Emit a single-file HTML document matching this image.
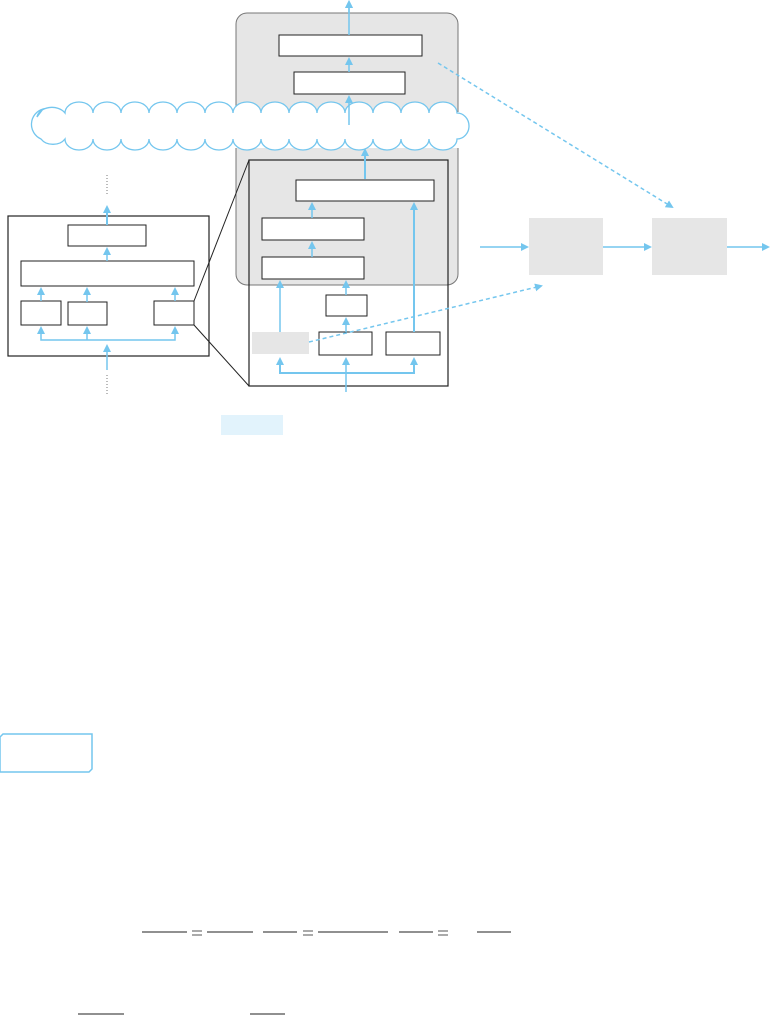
<!DOCTYPE html>
<html><head><style>html,body{margin:0;padding:0;background:#fff;width:770px;height:1015px;overflow:hidden}</style></head>
<body>
<svg width="770" height="1015" viewBox="0 0 770 1015" xmlns="http://www.w3.org/2000/svg" font-family="Liberation Sans, sans-serif">
<defs>
<marker id="a" markerWidth="8" markerHeight="8" refX="6" refY="4" orient="auto" markerUnits="userSpaceOnUse"><path d="M0,0 L8,4 L0,8z" fill="#74c6ee"/></marker>
</defs>
<rect x="236" y="13" width="222" height="272" rx="11" fill="#e6e6e6" stroke="#777" stroke-width="1"/>
<rect x="279" y="35" width="143" height="21" fill="#fff" stroke="#222"/>
<rect x="294" y="72" width="111" height="22" fill="#fff" stroke="#222"/>
<!-- cloud -->
<g fill="#fff" stroke="#74c6ee" stroke-width="1.3">
<rect x="30" y="112" width="440" height="36" stroke="none"/>
<path d="M37,117 a15,11 0 0 1 28,-4 a14,11 0 0 1 28,0 a14,11 0 0 1 28,0 a14,11 0 0 1 28,0 a14,11 0 0 1 28,0 a14,11 0 0 1 28,0 a14,11 0 0 1 28,0 a14,11 0 0 1 28,0 a14,11 0 0 1 28,0 a14,11 0 0 1 28,0 a14,11 0 0 1 28,0 a14,11 0 0 1 28,0 a14,11 0 0 1 28,0 a14,11 0 0 1 28,0 a14,11 0 0 1 28,0 a12,13 0 0 1 0,26 a14,11 0 0 1 -28,0 a14,11 0 0 1 -28,0 a14,11 0 0 1 -28,0 a14,11 0 0 1 -28,0 a14,11 0 0 1 -28,0 a14,11 0 0 1 -28,0 a14,11 0 0 1 -28,0 a14,11 0 0 1 -28,0 a14,11 0 0 1 -28,0 a14,11 0 0 1 -28,0 a14,11 0 0 1 -28,0 a14,11 0 0 1 -28,0 a14,11 0 0 1 -28,0 a14,11 0 0 1 -28,0 a14,11 0 0 1 -24,0 a16,16 0 0 1 2,-30z"/>
</g>
<rect x="249" y="160" width="199" height="226" fill="none" stroke="#222" stroke-width="1.2"/>
<rect x="296" y="180" width="138" height="21" fill="#fff" stroke="#222"/>
<rect x="262" y="218" width="102" height="22" fill="#fff" stroke="#222"/>
<rect x="262" y="257" width="102" height="22" fill="#fff" stroke="#222"/>
<rect x="326" y="295" width="41" height="21" fill="#fff" stroke="#222"/>
<rect x="252" y="332" width="57" height="22" fill="#e6e6e6"/>
<rect x="319" y="332" width="53" height="23" fill="#fff" stroke="#222"/>
<rect x="386" y="332" width="54" height="23" fill="#fff" stroke="#222"/>
<rect x="8" y="216" width="201" height="140" fill="none" stroke="#222" stroke-width="1.2"/>
<rect x="68" y="225" width="78" height="21" fill="#fff" stroke="#222"/>
<rect x="21" y="261" width="173" height="25" fill="#fff" stroke="#222"/>
<rect x="21" y="301" width="40" height="24" fill="#fff" stroke="#222"/>
<rect x="68" y="302" width="39" height="23" fill="#fff" stroke="#222"/>
<rect x="154" y="301" width="40" height="24" fill="#fff" stroke="#222"/>
<line x1="194" y1="301" x2="249" y2="160" stroke="#222"/>
<line x1="194" y1="325" x2="249" y2="386" stroke="#222"/>
<rect x="529" y="218" width="74" height="57" fill="#e6e6e6"/>
<rect x="652" y="218" width="75" height="57" fill="#e6e6e6"/>
<g stroke="#74c6ee" stroke-width="1.5" fill="none" marker-end="url(#a)">
<line x1="349" y1="13" x2="349" y2="2"/>
<line x1="349" y1="35" x2="349" y2="2"/>
<line x1="349" y1="72" x2="349" y2="59"/>
<line x1="349" y1="125" x2="349" y2="97"/>
<line x1="365" y1="179" x2="365" y2="150" stroke-width="2"/>
<line x1="312" y1="218" x2="312" y2="204"/>
<line x1="312" y1="257" x2="312" y2="243"/>
<line x1="280" y1="332" x2="280" y2="282"/>
<line x1="346" y1="295" x2="346" y2="282"/>
<line x1="346" y1="332" x2="346" y2="319"/>
<line x1="414" y1="332" x2="414" y2="204" stroke-width="2"/>
<line x1="107" y1="225" x2="107" y2="207" stroke-width="2"/>
<line x1="107" y1="261" x2="107" y2="249"/>
<line x1="41" y1="301" x2="41" y2="289"/>
<line x1="87" y1="302" x2="87" y2="289"/>
<line x1="175" y1="301" x2="175" y2="289"/>
<line x1="107" y1="370" x2="107" y2="346"/>
<line x1="480" y1="247" x2="527" y2="247"/>
<line x1="603" y1="247" x2="650" y2="247"/>
<line x1="727" y1="247" x2="768" y2="247"/>
<line x1="438" y1="63" x2="672" y2="207" stroke-dasharray="4,3"/>
<line x1="309" y1="342" x2="541" y2="286" stroke-dasharray="4,3"/>
<path d="M346,373 L280,373 L280,359" stroke-width="2"/>
<path d="M346,373 L414,373 L414,359" stroke-width="2"/>
<line x1="346" y1="392" x2="346" y2="359"/>
<path d="M107,340 L41,340 L41,328"/>
<path d="M107,340 L175,340 L175,328"/>
<line x1="87" y1="340" x2="87" y2="328"/>
</g>
<line x1="107" y1="175" x2="107" y2="195" stroke="#777" stroke-dasharray="1,2"/>
<line x1="107" y1="375" x2="107" y2="396" stroke="#777" stroke-dasharray="1,2"/>
<rect x="221" y="415" width="62" height="20" fill="#e2f3fc"/>
<path d="M3,734 L92,734 L92,769 L89,772 L0,772 L0,737z" fill="#fff" stroke="#74c6ee" stroke-width="1.5"/>
<g stroke="#222" stroke-width="1">
<line x1="142" y1="932" x2="187" y2="932"/><line x1="207" y1="932" x2="253" y2="932"/>
<line x1="263" y1="932" x2="297" y2="932"/><line x1="318" y1="932" x2="388" y2="932"/>
<line x1="399" y1="932" x2="433" y2="932"/><line x1="477" y1="932" x2="511" y2="932"/>
<line x1="78" y1="1014" x2="124" y2="1014"/><line x1="250" y1="1014" x2="285" y2="1014"/>
</g>
<g stroke="#555" stroke-width="1">
<line x1="192" y1="931" x2="202" y2="931"/><line x1="192" y1="935" x2="202" y2="935"/>
<line x1="303" y1="931" x2="313" y2="931"/><line x1="303" y1="935" x2="313" y2="935"/>
<line x1="438" y1="931" x2="448" y2="931"/><line x1="438" y1="935" x2="448" y2="935"/>
</g>
</svg>
</body></html>
